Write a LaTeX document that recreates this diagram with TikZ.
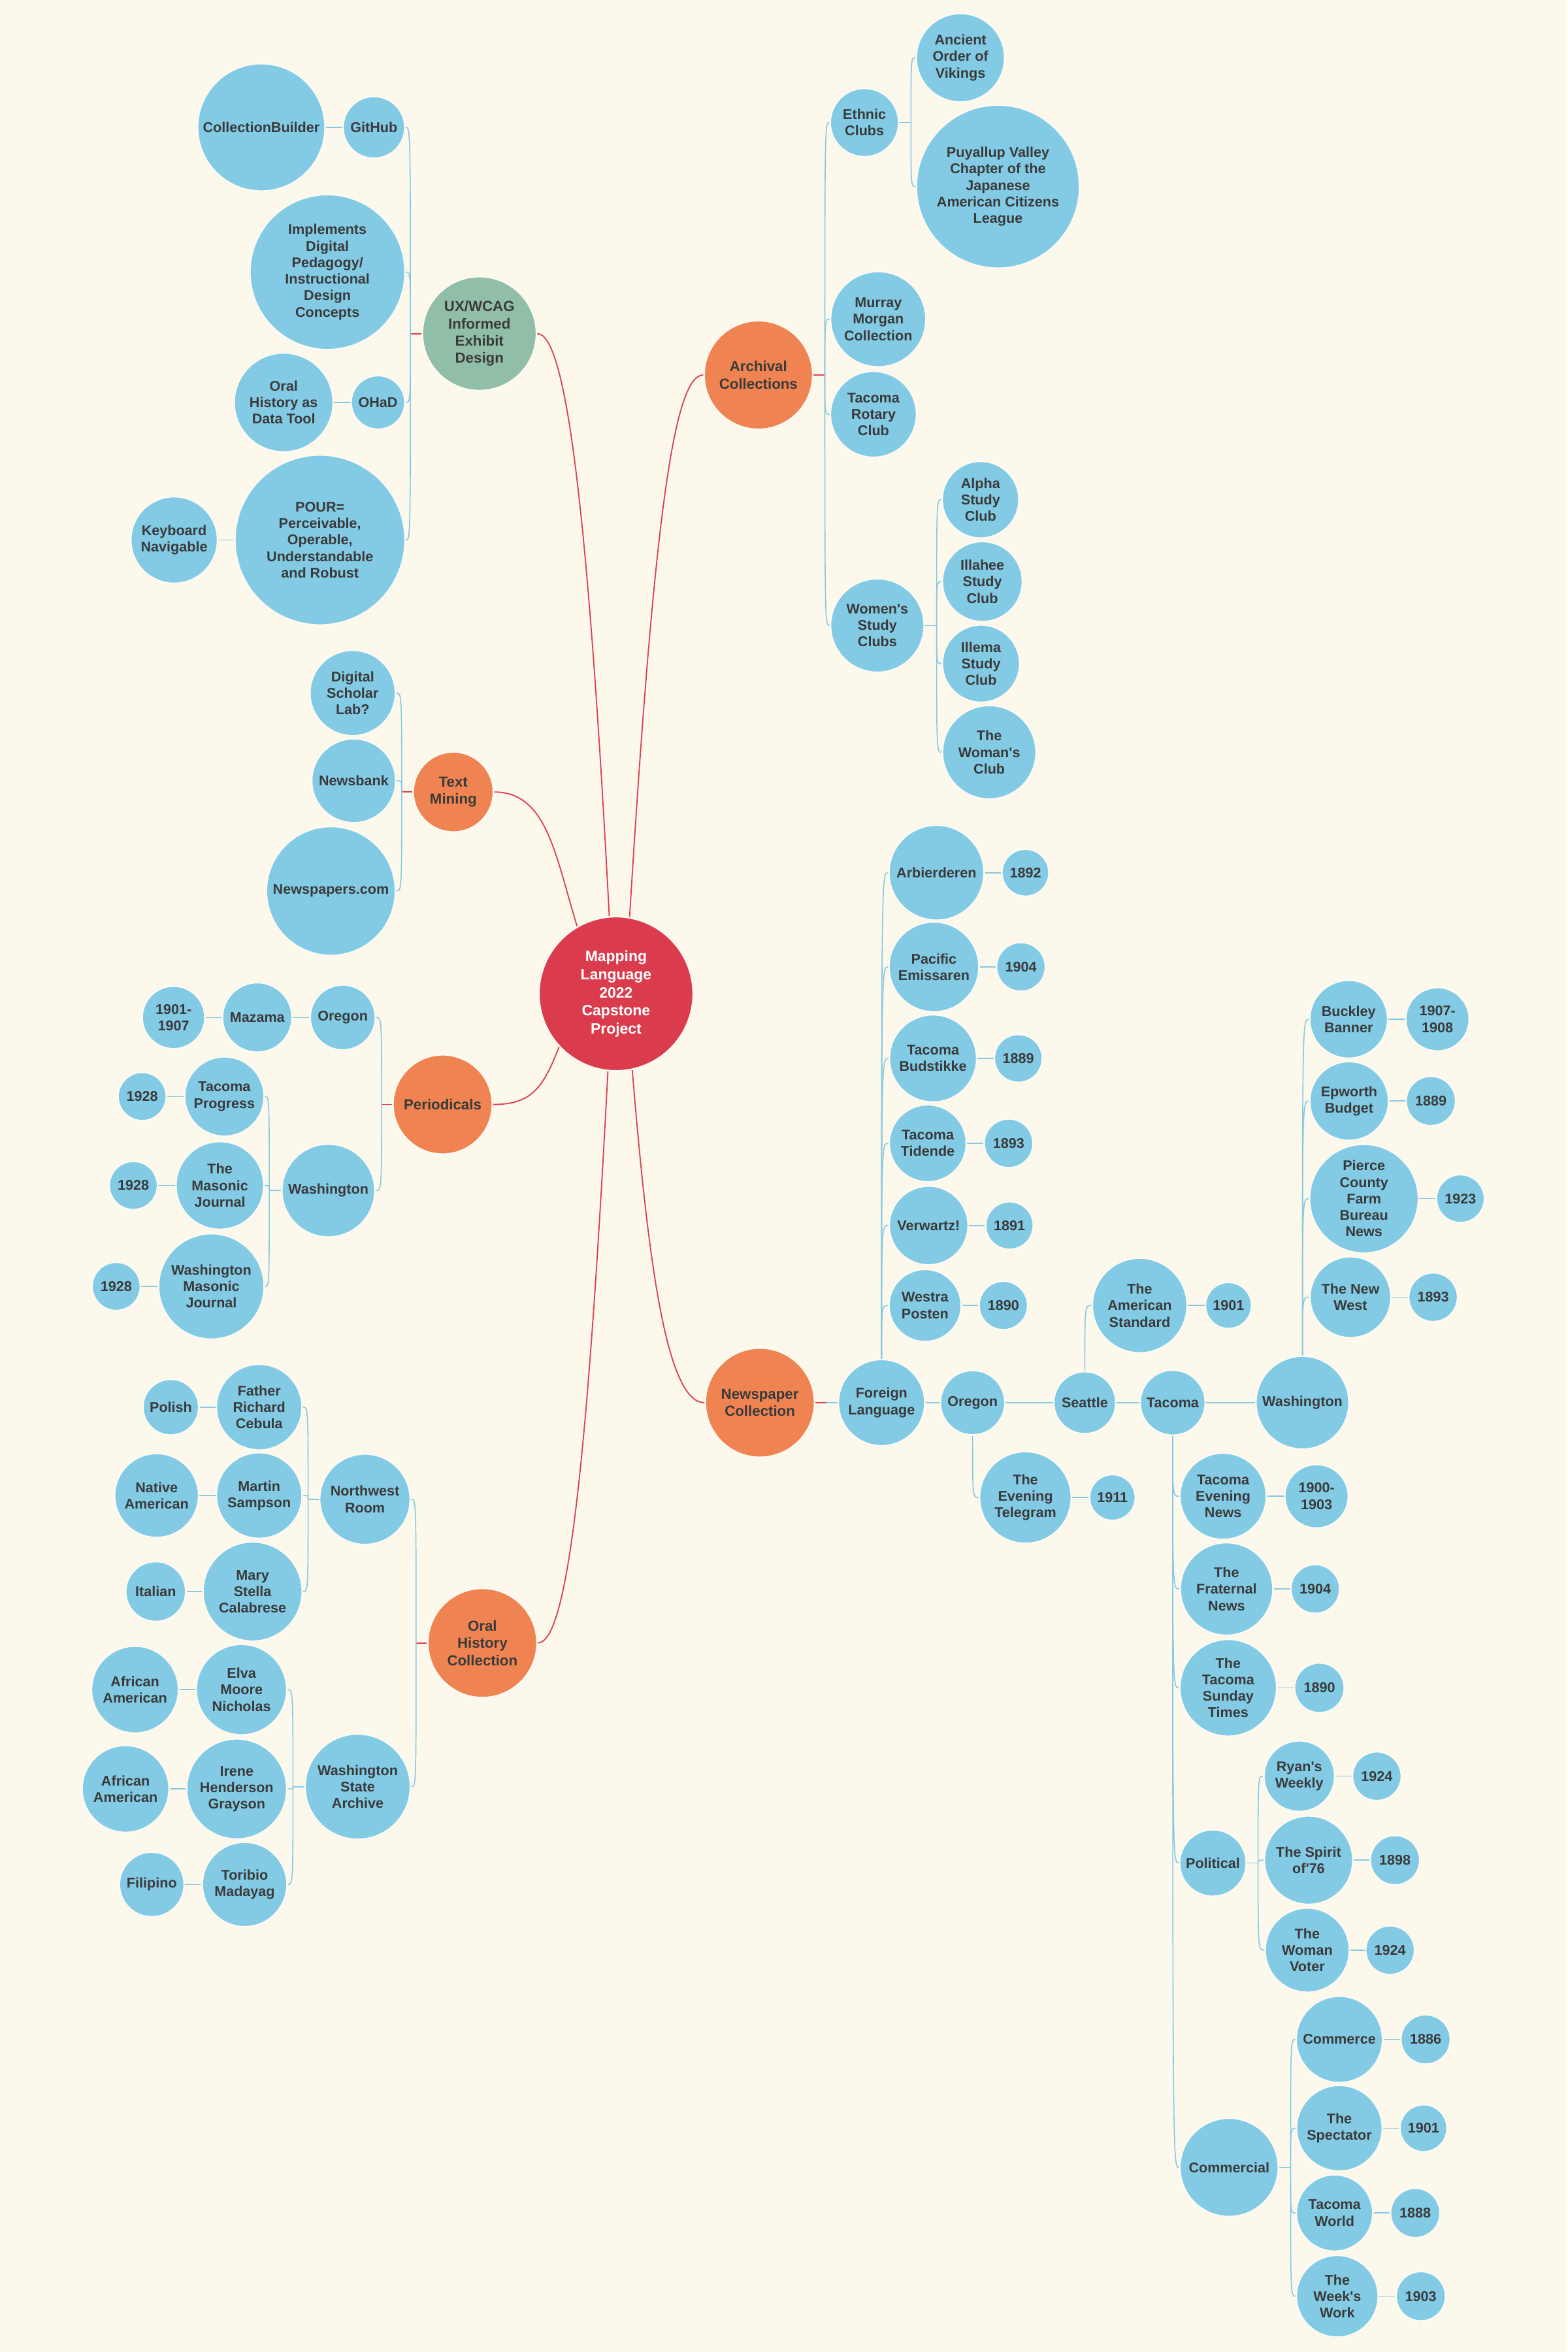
\documentclass[tikz,border=0pt]{standalone}
\usepackage{fontspec}
\setmainfont{Liberation Sans}
\usepackage{tikz}

\definecolor{paper}{HTML}{FCF8EC}
\definecolor{rim}{HTML}{FEFCF6}
\definecolor{bubblue}{HTML}{83CBE5}
\definecolor{topicorange}{HTML}{EF8452}
\definecolor{sage}{HTML}{90BEA7}
\definecolor{hubred}{HTML}{DB3C4D}
\definecolor{ink}{HTML}{3A3A3A}
\definecolor{twigblue}{HTML}{86C9E3}
\definecolor{spokered}{HTML}{DC3F50}

\newcommand{\bubfont}{\bfseries\fontsize{9.4}{11}\selectfont}
\newcommand{\topicfont}{\bfseries\fontsize{9.7}{11.5}\selectfont}
\newcommand{\hubfont}{\bfseries\fontsize{10}{12}\selectfont}

\begin{document}
\begin{tikzpicture}[x=1pt, y=1pt,
        bub/.style={circle, fill=bubblue, draw=rim, line width=0.6pt, inner sep=0pt, outer sep=0.8pt, align=center, text=ink, font=\bubfont},
        topic/.style={bub, fill=topicorange, font=\topicfont},
        hubnode/.style={bub, fill=hubred, text=white, font=\hubfont},
        twig/.style={draw=twigblue, line width=0.7pt},
        spoke/.style={draw=spokered, line width=0.8pt},
        kid/.style={twig, to path={(\tikztostart) .. controls (\tikztostart |- \tikztotarget) .. (\tikztotarget)}}]

            \fill[paper] (0,0) rectangle (1045,-1568);
            \useasboundingbox (0,0) rectangle (1045,-1568);

            \node[hubnode, minimum size=102.4pt] (hub) at (410.7,-662.5) {Mapping\\Language\\2022\\Capstone\\Project};

            \node[topic, fill=sage, minimum size=75.6pt] (ux) at (319.6,-222.4) {UX/WCAG\\Informed\\Exhibit\\Design};
            \node[topic, minimum size=72pt] (arch) at (505.6,-250) {Archival\\Collections};
            \node[topic, minimum size=53pt] (tm) at (302.2,-528) {Text\\Mining};
            \node[topic, minimum size=65.8pt] (per) at (295.1,-736.3) {Periodicals};
            \node[topic, minimum size=72.4pt] (np) at (506.6,-935.1) {Newspaper\\Collection};
            \node[topic, minimum size=72.4pt] (oh) at (321.6,-1095.3) {Oral\\History\\Collection};

            \node[bub, minimum size=40.8pt] (gh) at (249.3,-84.9) {GitHub};
            \node[bub, minimum size=84.6pt] (cb) at (174.2,-84.9) {CollectionBuilder};
            \node[bub, minimum size=103pt] (idp) at (218.3,-181.4) {Implements\\Digital\\Pedagogy/\\Instructional\\Design\\Concepts};
            \node[bub, minimum size=35.4pt] (ohad) at (252,-268.3) {OHaD};
            \node[bub, minimum size=65.6pt] (ohdt) at (189.1,-268.3) {Oral\\History as\\Data Tool};
            \node[bub, minimum size=113pt] (pour) at (213.3,-360) {POUR=\\Perceivable,\\Operable,\\Understandable\\and Robust};
            \node[bub, minimum size=57.4pt] (kbd) at (116.1,-360) {Keyboard\\Navigable};

            \node[bub, minimum size=45.2pt] (eth) at (576.3,-81.7) {Ethnic\\Clubs};
            \node[bub, minimum size=58.6pt] (vik) at (640.3,-38.5) {Ancient\\Order of\\Vikings};
            \node[bub, minimum size=108.4pt] (puy) at (665.3,-124.4) {Puyallup Valley\\Chapter of the\\Japanese\\American Citizens\\League};
            \node[bub, minimum size=63.2pt] (mm) at (585.5,-212.8) {Murray\\Morgan\\Collection};
            \node[bub, minimum size=57pt] (trc) at (582.3,-276.2) {Tacoma\\Rotary\\Club};
            \node[bub, minimum size=62pt] (wsc) at (584.9,-417) {Women\textquotesingle s\\Study\\Clubs};
            \node[bub, minimum size=50.8pt] (alpha) at (653.7,-333.1) {Alpha\\Study\\Club};
            \node[bub, minimum size=53pt] (illa) at (654.9,-387.7) {Illahee\\Study\\Club};
            \node[bub, minimum size=51.2pt] (ille) at (654,-442.4) {Illema\\Study\\Club};
            \node[bub, minimum size=62pt] (wclub) at (659.5,-501.5) {The\\Woman\textquotesingle s\\Club};

            \node[bub, minimum size=56.6pt] (dsl) at (235.1,-462) {Digital\\Scholar\\Lab?};
            \node[bub, minimum size=55.6pt] (nb) at (235.8,-520.5) {Newsbank};
            \node[bub, minimum size=85.6pt] (npc) at (220.6,-594) {Newspapers.com};

            \node[bub, minimum size=43pt] (poreg) at (228.5,-678.3) {Oregon};
            \node[bub, minimum size=46pt] (maz) at (171.5,-678.3) {Mazama};
            \node[bub, minimum size=41.4pt] (y0107) at (115.7,-678.3) {1901-\\1907};
            \node[bub, minimum size=61.6pt] (pwash) at (218.9,-793.7) {Washington};
            \node[bub, minimum size=52.6pt] (tprog) at (149.6,-731) {Tacoma\\Progress};
            \node[bub, minimum size=31.8pt] (ya) at (94.8,-731) {1928};
            \node[bub, minimum size=58.2pt] (mj) at (146.6,-790.3) {The\\Masonic\\Journal};
            \node[bub, minimum size=31.8pt] (yb) at (88.9,-790.3) {1928};
            \node[bub, minimum size=70pt] (wmj) at (140.9,-857.6) {Washington\\Masonic\\Journal};
            \node[bub, minimum size=31.8pt] (yc) at (77.5,-857.6) {1928};

            \node[bub, minimum size=60pt] (nwr) at (243.3,-999.5) {Northwest\\Room};
            \node[bub, minimum size=56.8pt] (frc) at (172.8,-938.1) {Father\\Richard\\Cebula};
            \node[bub, minimum size=36.8pt] (polish) at (113.9,-938.1) {Polish};
            \node[bub, minimum size=56.8pt] (msam) at (172.8,-997) {Martin\\Sampson};
            \node[bub, minimum size=55.6pt] (natam) at (104.4,-997) {Native\\American};
            \node[bub, minimum size=65.8pt] (msc) at (168.4,-1061) {Mary\\Stella\\Calabrese};
            \node[bub, minimum size=39.6pt] (ital) at (103.8,-1061) {Italian};
            \node[bub, minimum size=69.8pt] (wsa) at (238.5,-1191.1) {Washington\\State\\Archive};
            \node[bub, minimum size=60pt] (emn) at (161,-1126.4) {Elva\\Moore\\Nicholas};
            \node[bub, minimum size=57.6pt] (afa) at (90,-1126.4) {African\\American};
            \node[bub, minimum size=66.4pt] (ihg) at (157.8,-1192.6) {Irene\\Henderson\\Grayson};
            \node[bub, minimum size=57.6pt] (afb) at (83.7,-1192.6) {African\\American};
            \node[bub, minimum size=56pt] (tmad) at (163.1,-1256.3) {Toribio\\Madayag};
            \node[bub, minimum size=42.8pt] (fil) at (101.2,-1256.3) {Filipino};

            \node[bub, minimum size=57.2pt] (fl) at (587.7,-935.1) {Foreign\\Language};
            \node[bub, minimum size=63pt] (arb) at (624.3,-581.8) {Arbierderen};
            \node[bub, minimum size=31pt] (y1892) at (683.6,-581.8) {1892};
            \node[bub, minimum size=59.6pt] (pem) at (622.6,-644.6) {Pacific\\Emissaren};
            \node[bub, minimum size=32.2pt] (y1904a) at (680.6,-644.6) {1904};
            \node[bub, minimum size=57.8pt] (bud) at (622,-705.6) {Tacoma\\Budstikke};
            \node[bub, minimum size=31.6pt] (y1889a) at (678.9,-705.6) {1889};
            \node[bub, minimum size=51pt] (tid) at (618.5,-762.2) {Tacoma\\Tidende};
            \node[bub, minimum size=32.2pt] (y1893a) at (672.4,-762.2) {1893};
            \node[bub, minimum size=52.2pt] (verw) at (619.1,-817) {Verwartz!};
            \node[bub, minimum size=31.4pt] (y1891) at (673,-817) {1891};
            \node[bub, minimum size=47.8pt] (wpo) at (616.7,-870.3) {Westra\\Posten};
            \node[bub, minimum size=32pt] (y1890a) at (668.9,-870.3) {1890};

            \node[bub, minimum size=42.6pt] (oreg) at (648.4,-935.1) {Oregon};
            \node[bub, minimum size=60.8pt] (tel) at (683.6,-998.3) {The\\Evening\\Telegram};
            \node[bub, minimum size=30.2pt] (y1911) at (741.6,-998.3) {1911};
            \node[bub, minimum size=41pt] (sea) at (723.2,-935.1) {Seattle};
            \node[bub, minimum size=62.8pt] (amstd) at (759.8,-870.3) {The\\American\\Standard};
            \node[bub, minimum size=30.4pt] (y1901a) at (819,-870.3) {1901};
            \node[bub, minimum size=43pt] (tac) at (781.8,-935.1) {Tacoma};
            \node[bub, minimum size=61.6pt] (wash) at (868.3,-935.1) {Washington};

            \node[bub, minimum size=51.6pt] (buck) at (899.1,-679.5) {Buckley\\Banner};
            \node[bub, minimum size=42pt] (y0708) at (958.3,-679.5) {1907-\\1908};
            \node[bub, minimum size=52.2pt] (epw) at (899.4,-734) {Epworth\\Budget};
            \node[bub, minimum size=32.6pt] (y1889b) at (953.9,-734) {1889};
            \node[bub, minimum size=72.2pt] (pcf) at (909.3,-799.1) {Pierce\\County\\Farm\\Bureau\\News};
            \node[bub, minimum size=31.6pt] (y1923) at (973.6,-799.1) {1923};
            \node[bub, minimum size=53.6pt] (nwest) at (900.3,-864.8) {The New\\West};
            \node[bub, minimum size=32.2pt] (y1893b) at (955.4,-864.8) {1893};

            \node[bub, minimum size=57.2pt] (ten) at (815.4,-997.5) {Tacoma\\Evening\\News};
            \node[bub, minimum size=42pt] (y0003) at (877.7,-997.5) {1900-\\1903};
            \node[bub, minimum size=61.4pt] (frat) at (817.7,-1059.3) {The\\Fraternal\\News};
            \node[bub, minimum size=32.2pt] (y1904b) at (876.8,-1059.3) {1904};
            \node[bub, minimum size=64.2pt] (tst) at (818.8,-1125.2) {The\\Tacoma\\Sunday\\Times};
            \node[bub, minimum size=32.8pt] (y1890b) at (879.6,-1125.2) {1890};

            \node[bub, minimum size=44pt] (polit) at (808.6,-1242) {Political};
            \node[bub, minimum size=46.8pt] (ryan) at (866.2,-1184.1) {Ryan\textquotesingle s\\Weekly};
            \node[bub, minimum size=32.2pt] (y1924a) at (917.9,-1184.1) {1924};
            \node[bub, minimum size=58.6pt] (spirit) at (872.4,-1240.1) {The Spirit\\of\textquotesingle 76};
            \node[bub, minimum size=32.6pt] (y1898) at (930,-1240.1) {1898};
            \node[bub, minimum size=55.8pt] (voter) at (871.5,-1300.1) {The\\Woman\\Voter};
            \node[bub, minimum size=32.2pt] (y1924b) at (926.7,-1300.1) {1924};

            \node[bub, minimum size=65.2pt] (comm) at (819.4,-1444.9) {Commercial};
            \node[bub, minimum size=57.2pt] (cmrc) at (892.9,-1359.6) {Commerce};
            \node[bub, minimum size=32.6pt] (y1886) at (950.4,-1359.6) {1886};
            \node[bub, minimum size=56.8pt] (spec) at (892.9,-1418.8) {The\\Spectator};
            \node[bub, minimum size=31pt] (y1901b) at (949,-1418.8) {1901};
            \node[bub, minimum size=50.6pt] (tworld) at (889.7,-1475.3) {Tacoma\\World};
            \node[bub, minimum size=32.6pt] (y1888) at (943.5,-1475.3) {1888};
            \node[bub, minimum size=54.2pt] (weeks) at (891.5,-1530.8) {The\\Week\textquotesingle s\\Work};
            \node[bub, minimum size=32.6pt] (y1903) at (947.2,-1530.8) {1903};

            \coordinate (uxj) at (273.6,-222.4);
            \coordinate (archj) at (549.9,-250);
            \coordinate (tmj) at (267.8,-528);
            \coordinate (perj) at (254.4,-736.3);
            \coordinate (ohj) at (277.4,-1095.3);
            \coordinate (npj) at (550.9,-935.1);
            \coordinate (ethj) at (607.3,-81.7);
            \coordinate (wscj) at (624.4,-417);
            \coordinate (pwj) at (179.5,-793.7);
            \coordinate (nwj) at (205.4,-999.5);
            \coordinate (wsaj) at (195.3,-1191.1);
            \coordinate (politj) at (838.7,-1242);
            \coordinate (commj) at (860.4,-1444.9);

            \draw[spoke] (hub.95.5) .. controls +(93:260) and +(0:20) .. (ux.east);
            \draw[spoke] (hub.80.8) .. controls +(86.5:260) and +(180:20) .. (arch.west);
            \draw[spoke] (hub.120) .. controls +(107:50) and +(0:35) .. (tm.east);
            \draw[spoke] (hub.223.5) .. controls +(249:30) and +(0:25) .. (per.east);
            \draw[spoke] (hub.264.4) .. controls +(267:260) and +(0:20) .. (oh.east);
            \draw[spoke] (hub.282.9) .. controls +(274.7:130) and +(180:25) .. (np.west);

            \draw[spoke] (ux.west) -- (uxj);
            \draw[spoke] (arch.east) -- (archj);
            \draw[spoke] (tm.west) -- (tmj);
            \draw[spoke] (per.west) -- (perj);
            \draw[spoke] (oh.west) -- (ohj);
            \draw[spoke] (np.east) -- (npj);
            \draw[twig] (npj) -- (fl.west);

            \draw[kid] (uxj) to (gh.east);
            \draw[kid] (uxj) to (idp.east);
            \draw[kid] (uxj) to (ohad.east);
            \draw[kid] (uxj) to (pour.east);
            \draw[twig] (gh) -- (cb);
            \draw[twig] (ohad) -- (ohdt);
            \draw[twig] (pour) -- (kbd);

            \draw[kid] (archj) to (eth.west);
            \draw[kid] (archj) to (mm.west);
            \draw[kid] (archj) to (trc.west);
            \draw[kid] (archj) to (wsc.west);
            \draw[twig] (eth.east) -- (ethj);
            \draw[kid] (ethj) to (vik.west);
            \draw[kid] (ethj) to (puy.west);
            \draw[twig] (wsc.east) -- (wscj);
            \draw[kid] (wscj) to (alpha.west);
            \draw[kid] (wscj) to (illa.west);
            \draw[kid] (wscj) to (ille.west);
            \draw[kid] (wscj) to (wclub.west);

            \draw[kid] (tmj) to (dsl.east);
            \draw[kid] (tmj) to (nb.east);
            \draw[kid] (tmj) to (npc.east);

            \draw[kid] (perj) to (poreg.east);
            \draw[kid] (perj) to (pwash.east);
            \draw[twig] (poreg) -- (maz);
            \draw[twig] (maz) -- (y0107);
            \draw[twig] (pwash.west) -- (pwj);
            \draw[kid] (pwj) to (tprog.east);
            \draw[kid] (pwj) to (mj.east);
            \draw[kid] (pwj) to (wmj.east);
            \draw[twig] (tprog) -- (ya);
            \draw[twig] (mj) -- (yb);
            \draw[twig] (wmj) -- (yc);

            \draw[kid] (ohj) to (nwr.east);
            \draw[kid] (ohj) to (wsa.east);
            \draw[twig] (nwr.west) -- (nwj);
            \draw[kid] (nwj) to (frc.east);
            \draw[kid] (nwj) to (msam.east);
            \draw[kid] (nwj) to (msc.east);
            \draw[twig] (frc) -- (polish);
            \draw[twig] (msam) -- (natam);
            \draw[twig] (msc) -- (ital);
            \draw[twig] (wsa.west) -- (wsaj);
            \draw[kid] (wsaj) to (emn.east);
            \draw[kid] (wsaj) to (ihg.east);
            \draw[kid] (wsaj) to (tmad.east);
            \draw[twig] (emn) -- (afa);
            \draw[twig] (ihg) -- (afb);
            \draw[twig] (tmad) -- (fil);

            \draw[kid] (fl.north) to (arb.west);
            \draw[kid] (fl.north) to (pem.west);
            \draw[kid] (fl.north) to (bud.west);
            \draw[kid] (fl.north) to (tid.west);
            \draw[kid] (fl.north) to (verw.west);
            \draw[kid] (fl.north) to (wpo.west);
            \draw[twig] (arb) -- (y1892);
            \draw[twig] (pem) -- (y1904a);
            \draw[twig] (bud) -- (y1889a);
            \draw[twig] (tid) -- (y1893a);
            \draw[twig] (verw) -- (y1891);
            \draw[twig] (wpo) -- (y1890a);

            \draw[twig] (fl) -- (oreg);
            \draw[twig] (oreg) -- (sea);
            \draw[twig] (sea) -- (tac);
            \draw[twig] (tac) -- (wash);
            \draw[kid] (oreg.south) to (tel.west);
            \draw[twig] (tel) -- (y1911);
            \draw[kid] (sea.north) to (amstd.west);
            \draw[twig] (amstd) -- (y1901a);

            \draw[kid] (wash.north) to (buck.west);
            \draw[kid] (wash.north) to (epw.west);
            \draw[kid] (wash.north) to (pcf.west);
            \draw[kid] (wash.north) to (nwest.west);
            \draw[twig] (buck) -- (y0708);
            \draw[twig] (epw) -- (y1889b);
            \draw[twig] (pcf) -- (y1923);
            \draw[twig] (nwest) -- (y1893b);

            \draw[kid] (tac.south) to (ten.west);
            \draw[kid] (tac.south) to (frat.west);
            \draw[kid] (tac.south) to (tst.west);
            \draw[kid] (tac.south) to (polit.west);
            \draw[kid] (tac.south) to (comm.west);
            \draw[twig] (ten) -- (y0003);
            \draw[twig] (frat) -- (y1904b);
            \draw[twig] (tst) -- (y1890b);

            \draw[twig] (polit.east) -- (politj);
            \draw[kid] (politj) to (ryan.west);
            \draw[kid] (politj) to (spirit.west);
            \draw[kid] (politj) to (voter.west);
            \draw[twig] (ryan) -- (y1924a);
            \draw[twig] (spirit) -- (y1898);
            \draw[twig] (voter) -- (y1924b);

            \draw[twig] (comm.east) -- (commj);
            \draw[kid] (commj) to (cmrc.west);
            \draw[kid] (commj) to (spec.west);
            \draw[kid] (commj) to (tworld.west);
            \draw[kid] (commj) to (weeks.west);
            \draw[twig] (cmrc) -- (y1886);
            \draw[twig] (spec) -- (y1901b);
            \draw[twig] (tworld) -- (y1888);
            \draw[twig] (weeks) -- (y1903);

        \end{tikzpicture}
\end{document}
